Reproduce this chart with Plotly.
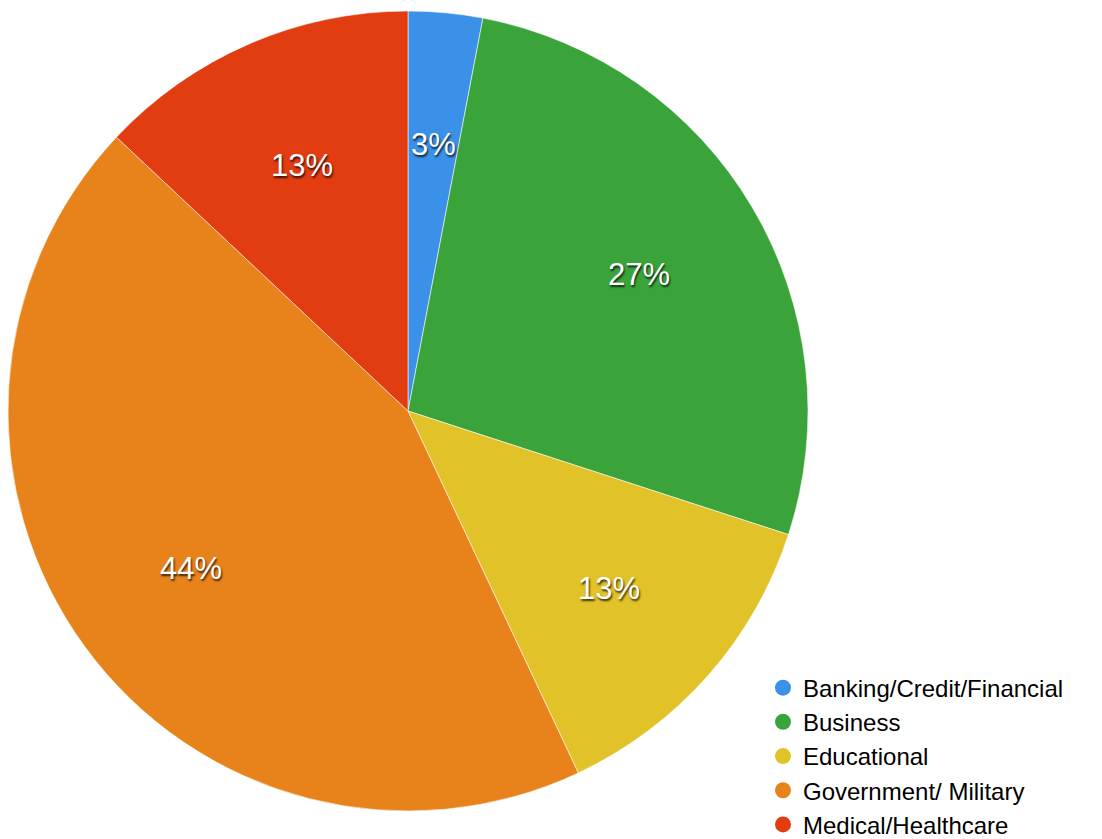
import math
import plotly.graph_objects as go

# Share of respondents by sector (percent)
sectors = [
    "Banking/Credit/Financial",
    "Business",
    "Educational",
    "Government/ Military",
    "Medical/Healthcare",
]
shares = [3, 27, 13, 44, 13]
sector_colors = ["#3b90e8", "#3aa43b", "#e1c228", "#e8821a", "#e23c11"]

W, H = 1102, 839

# Pie placement in pixels (centre and radius) for the domain and label ring
CX, CY, R = 408, 411, 400
LABEL_RING = 0.67

fig = go.Figure()

fig.add_trace(
    go.Pie(
        labels=sectors,
        values=shares,
        sort=False,
        direction="clockwise",
        rotation=0,
        marker=dict(colors=sector_colors, line=dict(color="rgba(255,255,255,0.55)", width=1)),
        textinfo="none",
        showlegend=False,
        hoverinfo="label+percent",
        domain=dict(x=[(CX - R) / W, (CX + R) / W], y=[(H - CY - R) / H, (H - CY + R) / H]),
    )
)

# Percent labels placed on a ring at each slice's mid-angle (clockwise from 12 o'clock)
total = sum(shares)
cum = 0.0
for v in shares:
    mid = (cum + v / 2) / total * 2 * math.pi
    cum += v
    px = CX + LABEL_RING * R * math.sin(mid)
    py = CY - LABEL_RING * R * math.cos(mid)
    fig.add_annotation(
        x=px / W,
        y=1 - py / H,
        xref="paper",
        yref="paper",
        text=f"{round(v / total * 100)}%",
        showarrow=False,
        xanchor="center",
        yanchor="middle",
        font=dict(
            family="Liberation Sans, Arial, sans-serif",
            size=31,
            color="white",
            shadow="1px 2px 2px rgba(0,0,0,0.75)",
        ),
    )

# Round legend markers, one per sector
for name, col in zip(sectors, sector_colors):
    fig.add_trace(
        go.Scatter(
            x=[None],
            y=[None],
            mode="markers",
            name=name,
            marker=dict(symbol="circle", size=18, color=col),
            showlegend=True,
        )
    )

fig.update_layout(
    width=W,
    height=H,
    margin=dict(l=0, r=0, t=0, b=0, autoexpand=False),
    paper_bgcolor="white",
    plot_bgcolor="white",
    xaxis=dict(visible=False),
    yaxis=dict(visible=False),
    legend=dict(
        x=763 / W,
        y=-0.009,
        xanchor="left",
        yanchor="bottom",
        font=dict(family="Liberation Sans, Arial, sans-serif", size=24, color="black"),
        bgcolor="rgba(0,0,0,0)",
        itemclick=False,
        tracegroupgap=0,
    ),
)

fig.write_html("out.html")
